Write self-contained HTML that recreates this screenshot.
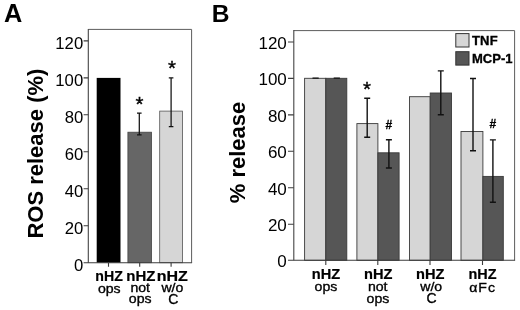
<!DOCTYPE html>
<html><head><meta charset="utf-8">
<style>
html,body{margin:0;padding:0;background:#fff;}
svg{display:block;font-family:"Liberation Sans",sans-serif;}
.b{font-weight:bold}
</style></head><body>
<svg width="520" height="310" viewBox="0 0 520 310">
<rect width="520" height="310" fill="#fff"/>
<!-- Panel A -->
<text x="3.9" y="21.9" class="b" font-size="25.3">A</text>
<text transform="translate(42.7,153.6) rotate(-90)" text-anchor="middle" class="b" font-size="22">ROS release (%)</text>
<g fill="#000" font-size="16.7" text-anchor="end">
<text x="83.2" y="49.2">120</text>
<text x="83.2" y="86.2">100</text>
<text x="83.2" y="123.1">80</text>
<text x="83.2" y="160.1">60</text>
<text x="83.2" y="197.1">40</text>
<text x="83.2" y="234">20</text>
<text x="83.2" y="271">0</text>
</g>
<!-- bars A -->
<rect x="96.7" y="77.9" width="23.8" height="184.8" fill="#000"/>
<rect x="127.9" y="132.2" width="23.6" height="130.5" fill="#666" stroke="#444" stroke-width="0.8"/>
<rect x="159.7" y="111.1" width="22.8" height="151.6" fill="#d6d6d6" stroke="#555" stroke-width="0.8"/>
<g stroke="#111" stroke-width="1.25" fill="none">
<path d="M139.3 113.2V134.8M137 113.2h4.6M137 134.8h4.6"/>
<path d="M171.1 77.8V126.6M168.8 77.8h4.6M168.8 126.6h4.6"/>
</g>
<g stroke="#3c3c3c" stroke-width="1.1" fill="none">
<path d="M88.3 29.4H191.6V262.7" stroke="#5c5c5c" stroke-width="1"/><path d="M88.3 262.7V28.9" stroke="#444"/>
<path d="M83.6 262.7H192.1"/>
<path d="M83.6 40.9h4.7M83.6 77.9h4.7M83.6 114.8h4.7M83.6 151.8h4.7M83.6 188.8h4.7M83.6 225.7h4.7"/>
<path d="M108.5 262.7v4M139.7 262.7v4M171.1 262.7v4"/>
</g>
<g font-size="20.5" text-anchor="middle" fill="#000" stroke="#000" stroke-width="0.35">
<text x="139.5" y="110.6">*</text>
<text x="171.9" y="75.1">*</text>
</g>
<g text-anchor="middle" fill="#000" stroke="#000" stroke-width="0.35">
<text transform="translate(109.1,281.2) scale(1.01,1.08)" font-size="14" class="b" stroke-width="0.2">nHZ</text>
<text transform="translate(140.8,281.2) scale(1.07,1.08)" font-size="14" class="b" stroke-width="0.2">nHZ</text>
<text transform="translate(172.3,281.2) scale(1.145,1.08)" font-size="14" class="b" stroke-width="0.2">nHZ</text>
<text transform="translate(109.3,292.5) scale(1.06,1.0)" font-size="13.3">ops</text>
<text transform="translate(140.2,292.2) scale(1.06,1.0)" font-size="13.3">not</text>
<text transform="translate(140.2,302.6) scale(1.06,1.0)" font-size="13.3">ops</text>
<text transform="translate(172.4,292.4) scale(1.06,1.0)" font-size="13.3">w/o</text>
<text transform="translate(173.4,303.6) scale(1.0,1.0)" font-size="14">C</text>
</g>
<!-- Panel B -->
<text x="211.8" y="21.9" class="b" font-size="24.6">B</text>
<text transform="translate(245.2,152.5) rotate(-90)" text-anchor="middle" class="b" font-size="22">% release</text>
<g fill="#000" font-size="17" text-anchor="end">
<text x="286.8" y="48.7">120</text>
<text x="286.8" y="85.2">100</text>
<text x="286.8" y="121.6">80</text>
<text x="286.8" y="158.1">60</text>
<text x="286.8" y="194.5">40</text>
<text x="286.8" y="231.0">20</text>
<text x="286.8" y="267.4">0</text>
</g>
<!-- bars B -->
<g stroke="#3a3a3a" stroke-width="0.9">
<rect x="304.6" y="78.3" width="21.2" height="182" fill="#d6d6d6"/>
<rect x="325.8" y="78.3" width="21" height="182" fill="#565656"/>
<rect x="356.9" y="123.6" width="21" height="136.7" fill="#d6d6d6"/>
<rect x="377.9" y="152.8" width="21.2" height="107.5" fill="#565656"/>
<rect x="409.5" y="96.7" width="20.7" height="163.6" fill="#d6d6d6"/>
<rect x="430.2" y="93" width="21.3" height="167.3" fill="#565656"/>
<rect x="461" y="131.5" width="21.9" height="128.8" fill="#d6d6d6"/>
<rect x="482.9" y="176.4" width="20.4" height="83.9" fill="#565656"/>
</g>
<g stroke="#111" stroke-width="1.4" fill="none">
<path d="M312.5 78.1h6.2M333.7 78.1h6.2"/>
<path d="M367.2 98.3V137.2M364.2 98.3h6M364.2 137.2h6"/>
<path d="M388.9 139.8V168M385.9 139.8h6M385.9 168h6"/>
<path d="M440.8 70.9V114.7M437.8 70.9h6M437.8 114.7h6"/>
<path d="M473 78.5V150.8M470 78.5h6M470 150.8h6"/>
<path d="M492.9 139.9V202.2M489.9 139.9h6M489.9 202.2h6"/>
</g>
<g stroke="#3c3c3c" stroke-width="1.1" fill="none">
<path d="M293.8 30.6H514.6V260.3" stroke="#5c5c5c" stroke-width="1"/><path d="M293.8 260.3V30.1" stroke="#444"/>
<path d="M288 260.3H515.1"/>
<path d="M288 42h5.8M288 78.4h5.8M288 114.9h5.8M288 151.3h5.8M288 187.8h5.8M288 224.2h5.8"/>
<path d="M325.8 260.3v4.8M377.8 260.3v4.8M430 260.3v4.8M482.5 260.3v4.8"/>
</g>
<text x="367.1" y="95.8" font-size="20.5" text-anchor="middle" fill="#000" stroke="#000" stroke-width="0.35">*</text>
<g font-size="12" text-anchor="middle" fill="#000" class="b" stroke="#000" stroke-width="0.3">
<text x="388.8" y="129.1">#</text>
<text x="492.9" y="128.2">#</text>
</g>
<!-- legend -->
<rect x="455.8" y="33.6" width="13.2" height="13.4" fill="#d6d6d6" stroke="#333" stroke-width="1"/>
<rect x="455.8" y="51.7" width="13.2" height="13.4" fill="#565656" stroke="#333" stroke-width="1"/>
<g font-size="13" class="b" fill="#000" stroke="#000" stroke-width="0.35">
<text x="472" y="45.2" letter-spacing="0.15">TNF</text>
<text x="472" y="63.1">MCP-1</text>
</g>
<g text-anchor="middle" fill="#000" stroke="#000" stroke-width="0.35">
<text transform="translate(326,279.2) scale(1.045,1.0)" font-size="14" class="b" stroke-width="0.2">nHZ</text>
<text transform="translate(378.3,279.2) scale(1.045,1.0)" font-size="14" class="b" stroke-width="0.2">nHZ</text>
<text transform="translate(430.2,279.2) scale(1.045,1.0)" font-size="14" class="b" stroke-width="0.2">nHZ</text>
<text transform="translate(482.5,279.2) scale(1.03,1.0)" font-size="14" class="b" stroke-width="0.2">nHZ</text>
<text transform="translate(325.9,291.4) scale(1.06,1.0)" font-size="13.3">ops</text>
<text transform="translate(377.7,291.4) scale(1.06,1.0)" font-size="13.3">not</text>
<text transform="translate(377.9,302.7) scale(1.06,1.0)" font-size="13.3">ops</text>
<text transform="translate(431.2,291.4) scale(1.06,1.0)" font-size="13.3">w/o</text>
<text transform="translate(431.5,302.6) scale(1.0,1.0)" font-size="14">C</text>
<text transform="translate(482.6,291.6) scale(1.06,1.0)" font-size="13.3" letter-spacing="0.9">αFc</text>
</g>
</svg>
</body></html>
